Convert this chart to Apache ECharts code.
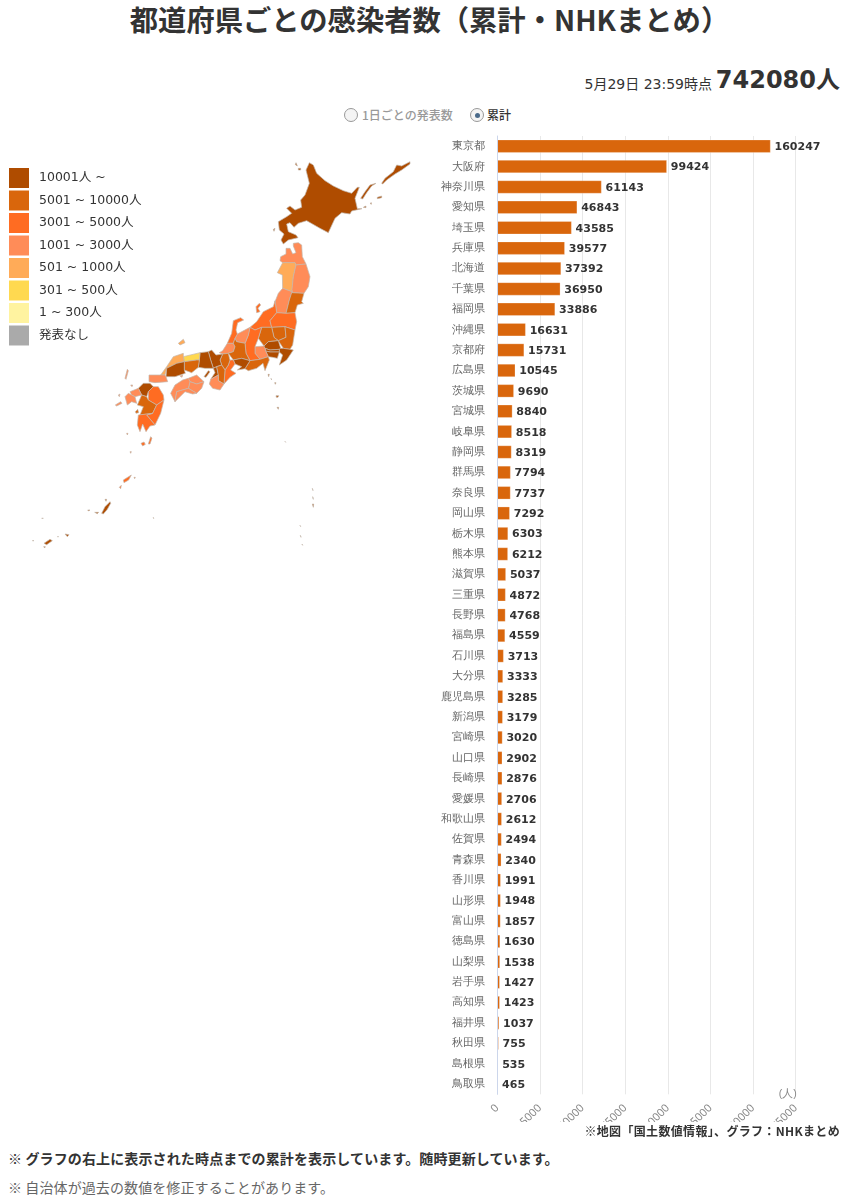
<!DOCTYPE html>
<html lang="ja"><head><meta charset="utf-8"><title>都道府県ごとの感染者数</title>
<style>
html,body{margin:0;padding:0;background:#fff;width:864px;height:1200px;overflow:hidden}
body{position:relative;font-family:"Noto Sans CJK JP","Noto Sans",sans-serif;color:#333}
.t{position:absolute;white-space:nowrap;line-height:1}
#map{position:absolute;left:0;top:130px;width:440px;height:440px}
#bars{position:absolute;left:430px;top:130px;width:434px;height:992px;overflow:hidden}
.radio{position:absolute;width:12px;height:12px;border:1px solid #999;border-radius:50%;background:#f4f4f4}
.radio.on::after{content:"";position:absolute;left:3.5px;top:3.5px;width:5px;height:5px;border-radius:50%;background:#4a6a8a}
</style></head><body>
<div class="t" id="title" style="left:0;width:859px;text-align:center;top:5px;font-size:28.3px;font-weight:700">都道府県ごとの感染者数（累計・NHKまとめ）</div>
<div class="t" style="right:152px;top:77px;font-size:14px;font-family:'DejaVu Sans','Noto Sans CJK JP',sans-serif">5月29日 23:59時点</div>
<div class="t" style="right:24px;top:68px;font-size:24px;font-weight:700;font-family:'DejaVu Sans','Noto Sans CJK JP',sans-serif">742080人</div>
<span class="radio" style="left:344px;top:108px"></span>
<div class="t" style="left:362px;top:109px;font-size:12px;color:#999;font-weight:500">1日ごとの発表数</div>
<span class="radio on" style="left:470px;top:108px"></span>
<div class="t" style="left:487px;top:109px;font-size:12px;color:#333;font-weight:500">累計</div>
<div id="map"></div><div id="bars"></div>
<div class="t" style="right:24px;top:1125px;font-size:12px;font-weight:700;letter-spacing:.33px">※地図「国土数値情報」、グラフ：NHKまとめ</div>
<div class="t" style="left:8px;top:1151px;font-size:14px;font-weight:700;letter-spacing:.13px">※ グラフの右上に表示された時点までの累計を表示しています。随時更新しています。</div>
<div class="t" style="left:8px;top:1180px;font-size:14px;color:#666;letter-spacing:.1px">※ 自治体が過去の数値を修正することがあります。</div>
<script src="https://cdn.jsdelivr.net/npm/echarts@6/dist/echarts.min.js"></script>
<script>
const prefectures=["東京都","大阪府","神奈川県","愛知県","埼玉県","兵庫県","北海道","千葉県","福岡県","沖縄県","京都府","広島県","茨城県","宮城県","岐阜県","静岡県","群馬県","奈良県","岡山県","栃木県","熊本県","滋賀県","三重県","長野県","福島県","石川県","大分県","鹿児島県","新潟県","宮崎県","山口県","長崎県","愛媛県","和歌山県","佐賀県","青森県","香川県","山形県","富山県","徳島県","山梨県","岩手県","高知県","福井県","秋田県","島根県","鳥取県"];
const cases=[160247,99424,61143,46843,43585,39577,37392,36950,33886,16631,15731,10545,9690,8840,8518,8319,7794,7737,7292,6303,6212,5037,4872,4768,4559,3713,3333,3285,3179,3020,2902,2876,2706,2612,2494,2340,1991,1948,1857,1630,1538,1427,1423,1037,755,535,465];
const valueTicksMax=175000, valueTickStep=25000;
const legendPieces=[
 {min:10001,label:"10001人 ~",color:"#af4c00"},
 {min:5001,max:10000,label:"5001 ~ 10000人",color:"#d9660c"},
 {min:3001,max:5000,label:"3001 ~ 5000人",color:"#ff6c22"},
 {min:1001,max:3000,label:"1001 ~ 3000人",color:"#ff8c58"},
 {min:501,max:1000,label:"501 ~ 1000人",color:"#ffab58"},
 {min:301,max:500,label:"301 ~ 500人",color:"#ffd950"},
 {min:1,max:300,label:"1 ~ 300人",color:"#fff3a0"},
 {max:0,label:"発表なし",color:"#aaaaaa"}];
/* Simplified prefecture outlines (geometry for registerMap, in map units). */
const outlines={
"北海道":[[928,98,940,105,950,130,975,152,1000,168,1030,182,1055,190,1072,172,1078,172,1065,205,1072,236,1086,236,1055,243,1050,252,1025,248,1005,265,985,308,960,295,920,272,895,280,882,292,870,278,860,282,865,305,888,315,894,323,865,330,850,342,843,330,852,312,838,300,835,275,860,260,875,250,860,235,870,228,885,240,905,232,902,210,915,195,928,160,918,120],
 [1082,205,1095,185,1110,165,1128,160,1115,168,1100,188,1088,207],[1145,160,1155,145,1180,125,1190,105,1205,108,1230,95,1230,102,1205,120,1185,132,1160,150,1148,162],[1132,202,1145,198,1145,203,1132,206],[1110,220,1114,218,1114,223],[1090,232,1098,228,1098,233],[888,98,892,108,886,104],[895,115,902,115,902,120,895,120],[820,298,825,295,822,304]],
"青森県":[[840,392,842,380,858,372,858,355,870,355,878,372,888,368,880,348,880,340,895,338,905,345,907,380,918,402,888,405,885,398,848,398]],
"秋田県":[[848,398,885,398,888,405,880,440,876,485,848,475,847,435,832,428]],
"岩手県":[[888,405,918,402,930,440,925,470,912,490,877,488,876,478,880,440]],
"山形県":[[848,475,876,485,875,490,868,510,858,550,830,548,825,515,835,490]],
"宮城県":[[875,488,912,490,905,515,910,520,892,525,885,548,858,550,868,510]],
"新潟県":[[825,512,830,548,810,572,815,592,785,592,765,600,750,592,770,575,790,545,820,530],[768,530,778,520,782,525,774,535,780,545,770,548]],
"福島県":[[830,548,858,550,885,548,890,575,885,600,855,590,815,592,810,572]],
"栃木県":[[815,592,855,590,858,622,835,632,822,622]],
"群馬県":[[785,592,815,592,822,622,835,632,805,635,792,648,775,625]],
"茨城県":[[855,590,885,600,878,645,870,658,850,655,835,632,858,622]],
"埼玉県":[[790,650,805,635,835,632,842,655,838,658,810,660,795,655]],
"千葉県":[[838,658,842,655,850,655,870,658,880,660,860,690,838,705,848,675,838,666]],
"東京都":[[795,655,810,660,838,658,838,666,810,666,797,663],[804,733,808,733,806,740],[813,745,816,745,815,750],[824,758,828,758,826,763],[828,797,836,797,834,802,829,802],[831,832,836,832,835,838,832,838],[937,1075,940,1075,939,1082],[938,1100,941,1100,940,1108],[937,1122,941,1122,940,1132],[900,1186,903,1186,902,1190],[901,1216,904,1216,903,1222],[906,1242,909,1242,908,1246],[855,934,858,934,857,937]],
"神奈川県":[[797,663,810,666,838,666,832,685,818,682,805,680]],
"山梨県":[[765,650,792,648,795,655,797,663,805,680,780,688,765,670]],
"長野県":[[750,592,765,600,785,592,775,625,765,650,765,670,780,688,750,692,738,670,735,640,745,615]],
"静岡県":[[735,716,750,692,780,688,805,680,808,690,795,722,789,700,770,715,745,722]],
"富山県":[[705,625,712,612,750,592,745,615,735,640,710,635]],
"石川県":[[700,572,722,563,731,570,713,578,708,600,712,612,705,625,700,640,682,640,695,610]],
"福井県":[[668,662,682,640,700,640,705,650,700,665,685,670,668,672,658,668]],
"岐阜県":[[705,625,710,635,735,640,738,670,750,692,725,685,700,690,685,670,700,665,705,650,700,640]],
"愛知県":[[700,690,725,685,750,692,735,716,712,720,725,710,705,702]],
"三重県":[[685,705,690,690,700,690,705,702,692,720,708,730,690,742,672,762,675,720]],
"滋賀県":[[660,690,668,672,685,670,690,690,685,705,675,720,665,705]],
"京都府":[[625,665,635,660,648,675,668,672,660,690,665,705,650,710,640,715,632,690]],
"兵庫県":[[600,668,625,665,632,690,640,715,615,715,595,712,598,690],[612,740,625,722,630,725,618,742]],
"大阪府":[[640,715,650,710,655,735,632,748,645,728]],
"奈良県":[[650,710,665,705,675,720,672,762,655,752,655,735]],
"和歌山県":[[632,748,655,735,655,752,672,762,660,780,638,775,628,762]],
"鳥取県":[[550,680,600,668,598,690,590,690,553,695]],
"島根県":[[482,735,500,710,520,680,550,670,550,680,553,695,530,700,500,715,495,735],[535,640,550,628,555,638,540,645]],
"岡山県":[[553,695,590,690,598,690,595,712,575,728,553,720]],
"広島県":[[500,715,530,700,553,695,553,720,556,730,525,740,498,740]],
"山口県":[[447,735,482,735,495,735,498,740,503,755,465,758,447,755]],
"香川県":[[565,745,590,735,612,755,590,762,570,755]],
"徳島県":[[570,755,590,762,612,755,605,775,590,790,565,775]],
"愛媛県":[[512,790,525,765,548,750,565,745,570,755,565,775,530,785,525,815],[540,738,548,735,546,742]],
"高知県":[[525,815,530,785,565,775,590,790,578,792,555,785,540,800]],
"福岡県":[[415,775,430,760,450,760,460,770,445,785,440,800,425,795]],
"佐賀県":[[390,785,415,775,425,795,405,800,395,795]],
"長崎県":[[385,790,395,795,405,800,410,820,395,815,382,825,375,800],[346,825,362,815,366,820,350,828],[375,745,382,718,385,722,378,748],[392,765,398,765,396,770],[355,795,360,792,358,800]],
"大分県":[[460,770,475,770,490,795,492,810,470,825,445,810,445,785]],
"熊本県":[[425,795,440,800,445,810,470,825,458,850,420,855,430,830,412,825],[406,845,413,838,416,848,408,850]],
"宮崎県":[[470,825,492,810,482,850,465,885,440,855,458,850]],
"鹿児島県":[[415,855,458,850,440,855,465,885,450,888,438,905,428,882,420,905,412,885],[423,940,432,936,436,943,428,948],[445,942,452,920,456,924,450,942],[370,1050,394,1035,386,1050,372,1058],[358,1072,364,1066,362,1076],[402,1042,406,1042,404,1046],[390,965,394,965,392,970],[380,910,384,910,382,915]],
"沖縄県":[[305,1150,315,1130,330,1115,332,1120,322,1138,310,1152],[284,1147,296,1147,292,1151],[263,1140,270,1140,266,1143],[315,1108,320,1108,318,1114],[132,1240,150,1228,157,1232,140,1244],[131,1250,136,1250,134,1254],[195,1212,207,1214,202,1220],[172,1220,176,1220,174,1223],[125,1165,130,1165,128,1168],[97,1232,102,1232,100,1235],[460,1162,463,1162,461,1166]]
};
function buildGeo(){
  let x0=1e9,x1=-1e9,y0=1e9,y1=-1e9;
  const features=Object.keys(outlines).map(name=>{
    const rings=outlines[name].map(flat=>{
      const r=[];
      for(let i=0;i<flat.length;i+=2){
        x0=Math.min(x0,flat[i]);x1=Math.max(x1,flat[i]);
        y0=Math.min(y0,flat[i+1]);y1=Math.max(y1,flat[i+1]);
        r.push([flat[i],-flat[i+1]]);
      }
      r.push(r[0]);return [r];
    });
    return {type:"Feature",properties:{name},geometry:{type:"MultiPolygon",coordinates:rings}};
  });
  return {geo:{type:"FeatureCollection",features},x0,x1,y0,y1};
}
const g=buildGeo();
echarts.registerMap("japan",g.geo);
const mapChart=echarts.init(document.getElementById("map"));
mapChart.setOption({
  animation:false,
  visualMap:{type:"piecewise",seriesIndex:0,left:9,top:38,padding:0,itemSymbol:"rect",itemWidth:20,itemHeight:20,itemGap:2.5,textGap:10,align:"left",selectedMode:false,hoverLink:false,
    textStyle:{color:"#333",fontSize:12.5,padding:[3,0,0,0],fontFamily:"'DejaVu Sans','Noto Sans CJK JP',sans-serif"},pieces:legendPieces},
  series:[{type:"map",map:"japan",aspectScale:1,silent:true,roam:false,
    left:g.x0/3,top:g.y0/3,width:(g.x1-g.x0)/3,height:(g.y1-g.y0)/3,
    label:{show:false},itemStyle:{borderColor:"#c4b8ac",borderWidth:0.7},
    data:prefectures.map((n,i)=>({name:n,value:cases[i]}))}]
});
const barChart=echarts.init(document.getElementById("bars"));
barChart.setOption({
  animation:false,
  grid:{left:67.3,top:6,width:298.4,height:958.3,outerBoundsMode:"none"},
  xAxis:{type:"value",min:0,max:valueTicksMax,interval:valueTickStep,position:"bottom",
    name:"(人)",nameLocation:"end",nameGap:-17,
    nameTextStyle:{color:"#888",fontSize:10.5,verticalAlign:"middle",padding:[10,0,0,0]},
    axisLine:{show:false},axisTick:{show:false},
    splitLine:{show:true,lineStyle:{color:"#e8e8e8",width:1}},
    axisLabel:{rotate:45,color:"#888",fontSize:11,margin:12,fontFamily:"'Noto Sans',sans-serif",hideOverlap:false,formatter:v=>String(v)}},
  yAxis:{type:"category",inverse:true,data:prefectures,z:5,
    axisLine:{show:true,lineStyle:{color:"#ccd6eb",width:1}},axisTick:{show:false},
    axisLabel:{color:"#666",fontSize:10.7,margin:12,padding:[0,0,3,0],interval:0}},
  series:[{type:"bar",data:cases,barWidth:13,
    itemStyle:{color:"#d9660c",borderColor:"rgba(255,255,255,0.5)",borderWidth:0.5},
    label:{show:true,position:"right",distance:4,offset:[0,1],color:"#333",fontSize:11,fontWeight:"bold",fontFamily:"'DejaVu Sans',sans-serif"}}]
});
</script></body></html>
